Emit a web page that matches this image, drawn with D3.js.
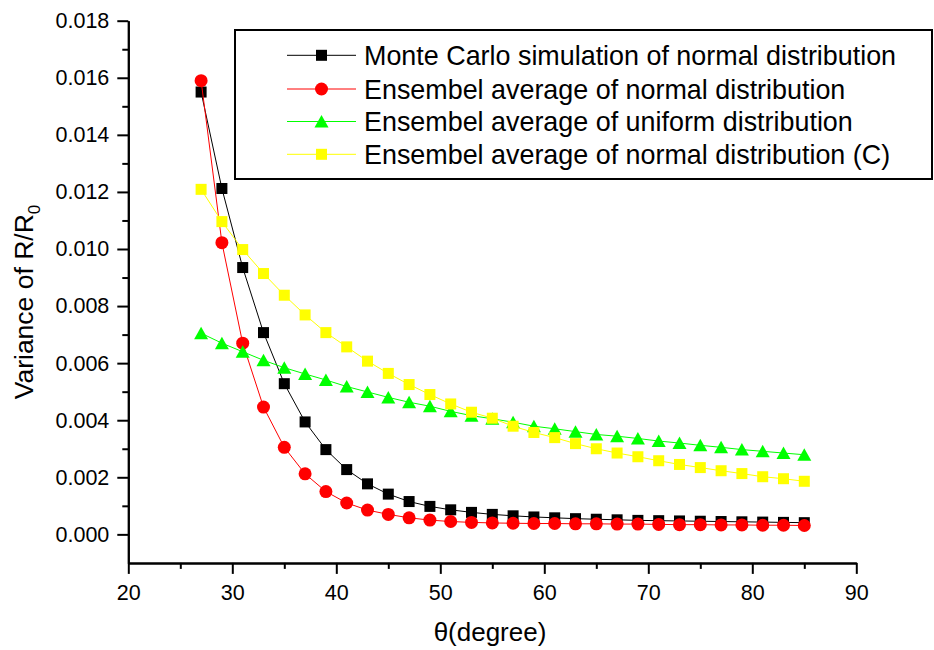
<!DOCTYPE html>
<html><head><meta charset="utf-8">
<script src="https://cdn.jsdelivr.net/npm/d3@7"></script>
<style>
body{margin:0;background:#fff;}
svg{display:block;font-family:"Liberation Sans",Arial,sans-serif;}
</style></head>
<body><svg id="c" width="934" height="650"></svg>
<script>
const theta = [27,29,31,33,35,37,39,41,43,45,47,49,51,53,55,57,59,61,63,65,67,69,71,73,75,77,79,81,83,85];
const monteCarloNormal = [0.01550,0.01212,0.00935,0.00707,0.00528,0.00394,0.00297,0.00227,0.00177,0.00141,
  0.00115,0.00098,0.00086,0.00077,0.00070,0.00065,0.00061,0.00058,0.00055,0.00053,
  0.00051,0.00049,0.00048,0.00047,0.00046,0.00045,0.00044,0.00043,0.00042,0.00041];
const ensembleNormal = [0.01590,0.01022,0.00670,0.00446,0.00305,0.00212,0.00150,0.00110,0.00085,0.00070,
  0.00058,0.00050,0.00045,0.00042,0.00040,0.00039,0.00038,0.00038,0.00037,0.00037,
  0.00036,0.00036,0.00035,0.00034,0.00034,0.00033,0.00033,0.00032,0.00032,0.00031];
const ensembleUniform = [0.00705,0.00670,0.00640,0.00610,0.00584,0.00562,0.00541,0.00518,0.00499,0.00480,
  0.00463,0.00449,0.00431,0.00416,0.00405,0.00393,0.00379,0.00370,0.00360,0.00350,
  0.00344,0.00336,0.00327,0.00320,0.00312,0.00305,0.00297,0.00291,0.00285,0.00279];
const ensembleNormalC = [0.01209,0.01096,0.00998,0.00914,0.00838,0.00769,0.00707,0.00657,0.00607,0.00564,
  0.00525,0.00490,0.00457,0.00428,0.00407,0.00379,0.00357,0.00339,0.00318,0.00300,
  0.00285,0.00272,0.00258,0.00245,0.00234,0.00223,0.00213,0.00202,0.00195,0.00186];
const seriesNames = ["Monte Carlo simulation of normal distribution","Ensembel average of normal distribution","Ensembel average of uniform distribution","Ensembel average of normal distribution (C)"];
const xMajorTicks = [20,30,40,50,60,70,80,90];
const xMinorTicks = [25,35,45,55,65,75,85];
const yMajorTicks = [0,0.002,0.004,0.006,0.008,0.010,0.012,0.014,0.016,0.018];
const yMinorTicks = [0.001,0.003,0.005,0.007,0.009,0.011,0.013,0.015,0.017];

const svg = d3.select("#c");
const x = d3.scaleLinear().domain([20,90]).range([128.3,856.3]);
const y = d3.scaleLinear().domain([-0.001,0.018]).range([562.9,20.7]);

function styleAxis(g){
  g.select(".domain").attr("stroke","#000").attr("stroke-width",2);
  g.selectAll(".tick line").attr("stroke","#000").attr("stroke-width",2);
}
const gxm = svg.append("g").attr("transform","translate(0,562.9)")
  .call(d3.axisBottom(x).tickValues(xMinorTicks).tickSize(6).tickSizeOuter(0).tickFormat(""));
styleAxis(gxm);
const gym = svg.append("g").attr("transform","translate(128.3,0)")
  .call(d3.axisLeft(y).tickValues(yMinorTicks).tickSize(6).tickSizeOuter(0).tickFormat(""));
styleAxis(gym);
const gx = svg.append("g").attr("transform","translate(0,562.9)")
  .call(d3.axisBottom(x).tickValues(xMajorTicks).tickSize(11).tickPadding(11).tickSizeOuter(0).tickFormat(d3.format("d")));
styleAxis(gx);
gx.selectAll("text").attr("font-size","21.5px").attr("fill","#000").attr("font-family","Liberation Sans, Arial, sans-serif");
const gy = svg.append("g").attr("transform","translate(128.3,0)")
  .call(d3.axisLeft(y).tickValues(yMajorTicks).tickSize(11).tickPadding(8).tickSizeOuter(0).tickFormat(d3.format(".3f")));
styleAxis(gy);
gy.selectAll("text").attr("font-size","21.5px").attr("fill","#000").attr("font-family","Liberation Sans, Arial, sans-serif");

svg.append("text").attr("x",490).attr("y",641).attr("text-anchor","middle")
  .attr("font-size","26px").text("θ(degree)");
const yt = svg.append("text").attr("transform","translate(33,302) rotate(-90)")
  .attr("text-anchor","middle").attr("font-size","26.5px");
yt.append("tspan").text("Variance of R/R");
yt.append("tspan").attr("font-size","17px").attr("dy",7).text("0");

const series = [
  {vals: monteCarloNormal, color:"#000000", shape:"square"},
  {vals: ensembleNormal, color:"#FF0000", shape:"circle"},
  {vals: ensembleUniform, color:"#00FF00", shape:"triangle"},
  {vals: ensembleNormalC, color:"#FFFF00", shape:"square"}
];

function drawMarker(g, shape, cx, cy, color){
  if(shape==="square"){
    g.append("rect").attr("x",cx-5.5).attr("y",cy-5.5).attr("width",11).attr("height",11).attr("fill",color);
  } else if(shape==="circle"){
    g.append("circle").attr("cx",cx).attr("cy",cy).attr("r",6.5).attr("fill",color);
  } else {
    g.append("path").attr("d",`M${cx},${cy-6.5}L${cx+7},${cy+6}L${cx-7},${cy+6}Z`).attr("fill",color);
  }
}

const line = d3.line().x(d=>x(d[0])).y(d=>y(d[1]));
series.forEach(s=>{
  const pts = theta.map((t,i)=>[t,s.vals[i]]);
  const g = svg.append("g");
  g.append("path").datum(pts).attr("d",line).attr("fill","none").attr("stroke",s.color).attr("stroke-width",1);
  pts.forEach(p=>drawMarker(g, s.shape, x(p[0]), y(p[1]), s.color));
});

const lg = svg.append("g");
lg.append("rect").attr("x",235).attr("y",30).attr("width",697).attr("height",149)
  .attr("fill","#fff").attr("stroke","#000").attr("stroke-width",2);
const rowY = [55.3,89,121.5,154.3];
series.forEach((s,i)=>{
  lg.append("line").attr("x1",287).attr("x2",356).attr("y1",rowY[i]).attr("y2",rowY[i])
    .attr("stroke",s.color).attr("stroke-width",1);
  drawMarker(lg, s.shape, 321.5, rowY[i], s.color);
  lg.append("text").attr("x",364).attr("y",rowY[i]+9.5).attr("font-size","26.9px").text(seriesNames[i]);
});
</script></body></html>
